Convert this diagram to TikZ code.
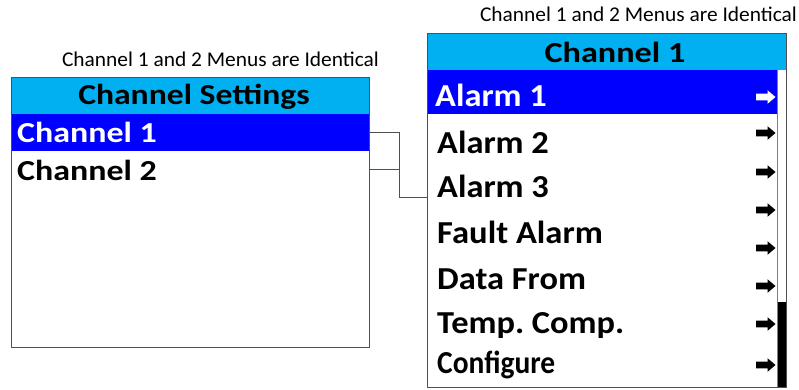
\documentclass[tikz,border=0pt]{standalone}
\usepackage{fontspec}
\setmainfont{Carlito}
\definecolor{hdrcyan}{HTML}{00B0F0}
\definecolor{selblue}{HTML}{0000FF}
\definecolor{boxgray}{HTML}{505050}
\newcommand\hsc[2]{\scalebox{#1}[1]{#2}}
\frenchspacing
\begin{document}
\begin{tikzpicture}[x=1pt,y=-1pt,
  cell/.style={anchor=north west,inner sep=0pt,outer sep=0pt,minimum height=#1},
  frame/.style={draw=boxgray,line width=1pt,anchor=north west,inner sep=0pt,outer sep=0pt},
  itemL/.style={font=\bfseries\fontsize{29}{29}\selectfont,anchor=base west,inner sep=0pt},
  itemR/.style={font=\bfseries\fontsize{32}{32}\selectfont,anchor=base west,inner sep=0pt},
  hdrtxt/.style={font=\bfseries\fontsize{29}{29}\selectfont,anchor=base,inner sep=0pt},
  caption/.style={font=\fontsize{21}{21}\selectfont,anchor=base,inner sep=0pt},
  conn/.style={draw=boxgray,line width=1pt},
  marrow/.pic={\fill (0,-3.4) -- (11.5,-3.4) -- (11.5,-6.8) -- (19.5,0) -- (11.5,6.8) -- (11.5,3.4) -- (0,3.4) -- cycle;}
]
\useasboundingbox (0,0) rectangle (799,389);
% captions
\node[caption] (capL) at (220.5,66) {\hsc{1.02}{Channel 1 and 2 Menus are Identical}};
\node[caption] (capR) at (638.5,21) {\hsc{1.02}{Channel 1 and 2 Menus are Identical}};
% left menu
\node[cell=37pt,minimum width=358pt,fill=hdrcyan] (lhead) at (11,77) {};
\node[cell=37pt,minimum width=358pt,fill=selblue] (ch1row) at (11,114) {};
\node[cell=37pt,minimum width=358pt] (ch2row) at (11,151) {};
\node[frame,minimum width=358pt,minimum height=270pt] (lbox) at (11,77) {};
\node[hdrtxt] (lheadtxt) at (194,104) {\hsc{1.16}{Channel Settings}};
\node[itemL,text=white] (ch1) at (17,142) {\hsc{1.17}{Channel 1}};
\node[itemL] (ch2) at (17,180) {\hsc{1.17}{Channel 2}};
% right menu
\node[cell=37pt,minimum width=359pt,fill=hdrcyan] (rhead) at (427,33) {};
\node[cell=44pt,minimum width=350pt,fill=selblue] (a1row) at (427,70) {};
\node[cell=85pt,minimum width=9pt,fill=black] (thumb) at (777,302) {};
\draw[draw=gray,line width=1pt] (a1row.north east) -- (a1row.north east |- thumb.south);
\node[frame,minimum width=359pt,minimum height=354pt] (rbox) at (427,33) {};
\node[hdrtxt] (rheadtxt) at (615,62) {\hsc{1.18}{Channel 1}};
\node[itemR,text=white] (a1) at (435,106) {\hsc{1.075}{Alarm 1}};
\node[itemR] (a2) at (437,153) {\hsc{1.075}{Alarm 2}};
\node[itemR] (a3) at (437,197) {\hsc{1.075}{Alarm 3}};
\node[itemR] (fa) at (437,243) {\hsc{1.08}{Fault Alarm}};
\node[itemR] (df) at (437,289) {\hsc{1.075}{Data From}};
\node[itemR] (tc) at (437,333) {\hsc{1.075}{Temp. Comp.}};
\node[itemR] (cf) at (437,373) {\hsc{0.92}{Configure}};
% arrows
\pic[white] at (756,97) {marrow};
\foreach \yy in {133,172,210,248,286,324,365} \pic[black] at (756,\yy) {marrow};
% connectors
\coordinate (jx) at (399,0);
\draw[conn] (ch1row.east) -- (ch1row.east -| jx) |- (rbox.west |- a3.base);
\draw[conn] (ch2row.east) -- (ch2row.east -| jx);
\end{tikzpicture}
\end{document}
